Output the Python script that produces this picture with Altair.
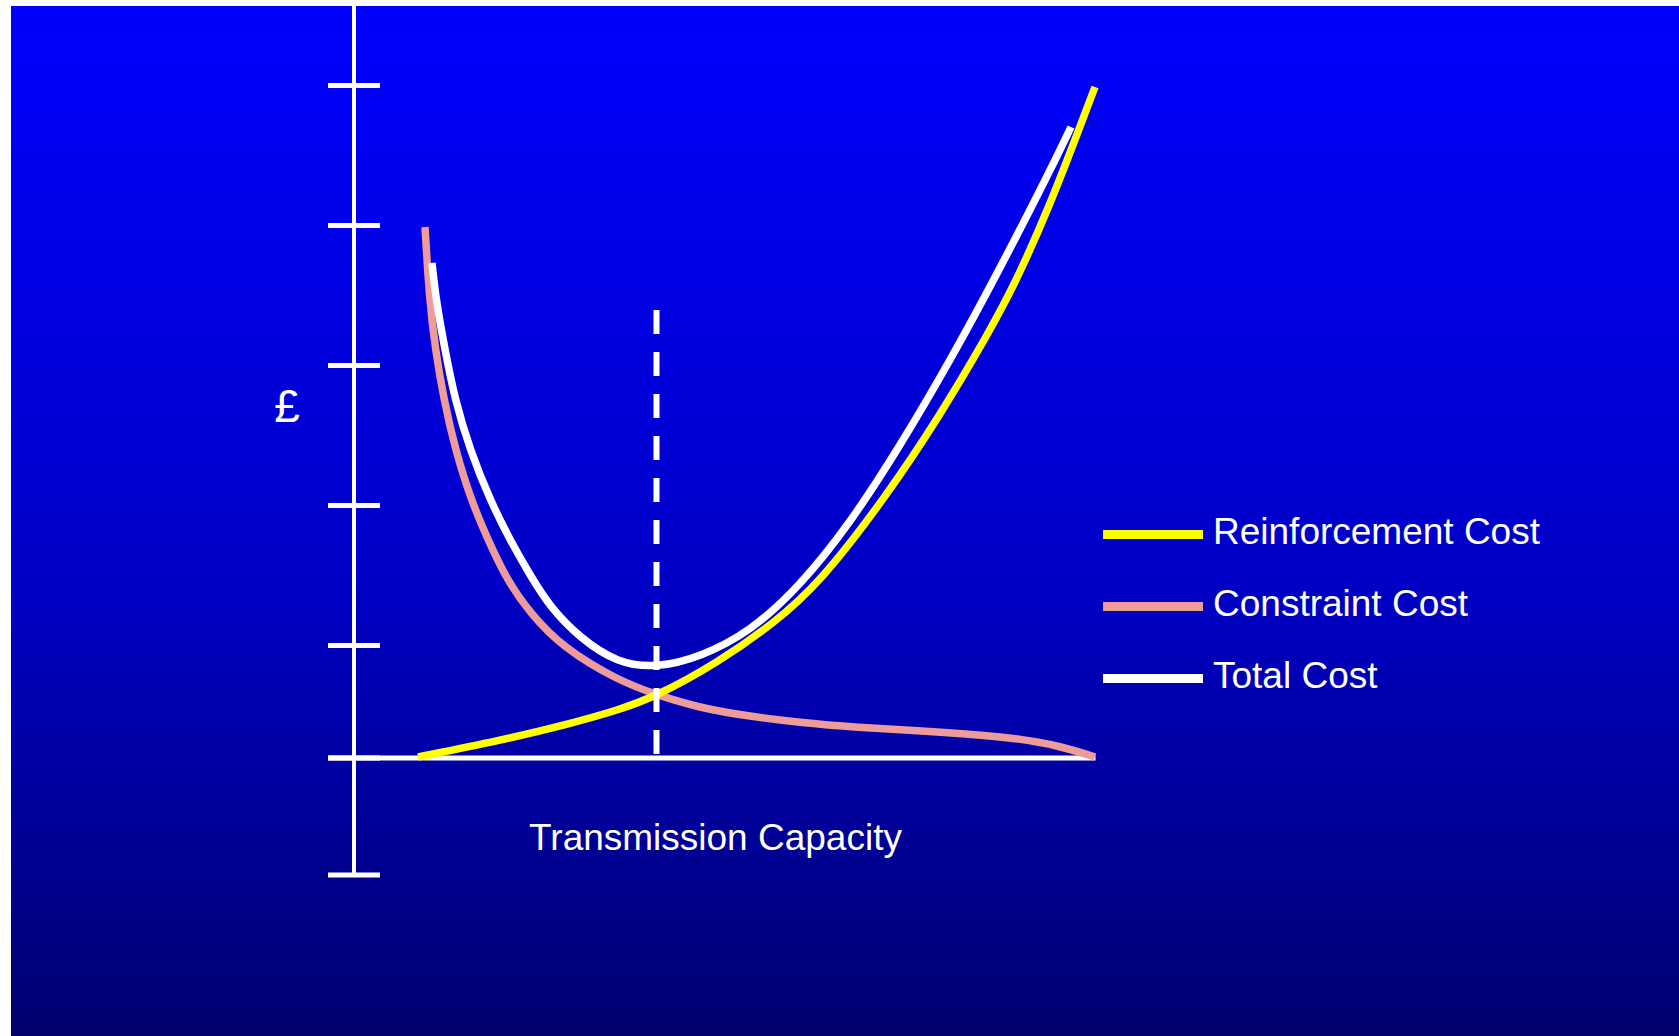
import altair as alt
import pandas as pd

# ---------------- data ----------------
series_names = ["Reinforcement Cost", "Constraint Cost", "Total Cost"]
series_colors = ["#FFFF00", "#EE9C9A", "#FFFFFF"]

reinf_x = [6.4, 14.6, 21.3, 26.3, 30.2, 36.3, 41.9, 46.6, 53.1, 58.6, 63.4, 66.1, 69.6, 72.4, 74.1]
reinf_y = [0.1, 1.74, 3.35, 4.75, 6.15, 9.5, 13.4, 17.54, 26.0, 34.25, 42.4, 47.4, 55.3, 62.6, 67.1]

constr_x = [7.1, 7.54, 8.14, 8.99, 10.14, 11.7, 13.4, 15.3, 17.6, 20.8, 26.3, 30.3, 34.6, 39.6, 44.6, 49.6, 59.6, 66.3, 70.6, 74.1]
constr_y = [53.1, 45.8, 40.8, 35.8, 30.8, 25.8, 21.8, 17.8, 14.5, 11.1, 7.8, 6.3, 5.0, 4.15, 3.55, 3.1, 2.55, 2.0, 1.2, 0.1]

total_x = [7.8, 8.2, 9.1, 10.1, 11.6, 13.6, 15.6, 17.6, 19.6, 22.6, 26.3, 30.3, 34.6, 39.6, 44.6, 49.6, 54.6, 59.6, 64.6, 69.6, 71.7]
total_y = [49.5, 45.8, 40.8, 35.8, 30.8, 25.8, 21.8, 18.3, 15.1, 12.0, 9.5, 9.0, 10.1, 12.6, 17.2, 23.45, 31.2, 39.7, 48.95, 58.7, 63.1]

tick_values = [67.25, 53.25, 39.25, 25.25, 11.25, 0.0, -11.7]
tick_half = 2.6
yaxis_top = 75.2
xaxis_start = -2.6
xaxis_end = 74.15
optimum_x = 30.25
optimum_top = 44.8
optimum_bottom = 0.3

x_title = "Transmission Capacity"
x_title_pos = (36.15, -9.2)
y_title = "£"
y_title_pos = (-6.7, 33.6)

# ---------------- layout ----------------
W, H = 1679, 1036
X_DOMAIN = [-35.4, 132.5]
Y_DOMAIN = [-27.8, 75.8]
FONT = "Liberation Sans"

xs = alt.Scale(domain=X_DOMAIN, nice=False, zero=False)
ys = alt.Scale(domain=Y_DOMAIN, nice=False, zero=False)


def X(field):
    return alt.X(field, type="quantitative", scale=xs, axis=None)


def Y(field):
    return alt.Y(field, type="quantitative", scale=ys, axis=None)


gradient = alt.LinearGradient(
    gradient="linear",
    stops=[
        alt.GradientStop(color="#0000FF", offset=0),
        alt.GradientStop(color="#0000C8", offset=0.55),
        alt.GradientStop(color="#000070", offset=1),
    ],
    x1=0, x2=0, y1=0, y2=1,
)

background = alt.Chart(pd.DataFrame({"v": [0]})).mark_rect(color=gradient).encode(
    x=alt.value(11), x2=alt.value(W), y=alt.value(6), y2=alt.value(H)
)

# axes drawn from data
yaxis_df = pd.DataFrame({"x": [0.0], "y": [yaxis_top], "y2": [tick_values[-1]]})
yaxis = alt.Chart(yaxis_df).mark_rule(color="white", strokeWidth=4).encode(
    x=X("x"), y=Y("y"), y2="y2"
)
ticks_df = pd.DataFrame({"x": [-tick_half] * len(tick_values), "x2": [tick_half] * len(tick_values), "y": tick_values})
ticks = alt.Chart(ticks_df).mark_rule(color="white", strokeWidth=5).encode(
    x=X("x"), x2="x2", y=Y("y")
)
xaxis_df = pd.DataFrame({"x": [xaxis_start], "x2": [xaxis_end], "y": [0.0]})
xaxis = alt.Chart(xaxis_df).mark_rule(color="white", strokeWidth=5).encode(
    x=X("x"), x2="x2", y=Y("y")
)


def curve(xv, yv, name, color):
    df = pd.DataFrame({"x": xv, "y": yv, "series": name})
    return alt.Chart(df).mark_line(
        color=color, strokeWidth=7.5, interpolate="basis", strokeCap="butt"
    ).encode(x=X("x"), y=Y("y"), order=alt.Order("x:Q"))


line_constr = curve(constr_x, constr_y, series_names[1], series_colors[1])
line_reinf = curve(reinf_x, reinf_y, series_names[0], series_colors[0])
line_total = curve(total_x, total_y, series_names[2], series_colors[2])

opt_df = pd.DataFrame({"x": [optimum_x], "y": [optimum_top], "y2": [optimum_bottom]})
optimum = alt.Chart(opt_df).mark_rule(color="white", strokeWidth=6, strokeDash=[24, 18]).encode(
    x=X("x"), y=Y("y"), y2="y2"
)

xt_df = pd.DataFrame({"x": [x_title_pos[0]], "y": [x_title_pos[1]], "t": [x_title]})
xtitle = alt.Chart(xt_df).mark_text(
    font=FONT, fontSize=37, color="white", align="center", baseline="alphabetic"
).encode(x=X("x"), y=Y("y"), text="t:N")

yt_df = pd.DataFrame({"x": [y_title_pos[0]], "y": [y_title_pos[1]], "t": [y_title]})
ytitle = alt.Chart(yt_df).mark_text(
    font=FONT, fontSize=46, color="white", align="center", baseline="alphabetic"
).encode(x=X("x"), y=Y("y"), text="t:N")

# manual legend
legend_layers = []
for i, (name, col) in enumerate(zip(series_names, series_colors)):
    cy = 534.5 + 72 * i
    one = pd.DataFrame({"t": [name]})
    legend_layers.append(
        alt.Chart(one).mark_rule(color=col, strokeWidth=9).encode(
            x=alt.value(1103), x2=alt.value(1203), y=alt.value(cy)
        )
    )
    legend_layers.append(
        alt.Chart(one).mark_text(
            font=FONT, fontSize=37, color="white", align="left", baseline="alphabetic"
        ).encode(x=alt.value(1213), y=alt.value(cy + 9.5), text="t:N")
    )

chart = alt.layer(
    background, yaxis, ticks, xaxis,
    line_constr, line_reinf, line_total, optimum,
    xtitle, ytitle, *legend_layers
).properties(
    width=W, height=H, autosize=alt.AutoSizeParams(type="none"), padding=0,
    background="white",
).configure_view(stroke=None)

chart.save("out.html", embed_options={"renderer": "svg", "actions": False})
